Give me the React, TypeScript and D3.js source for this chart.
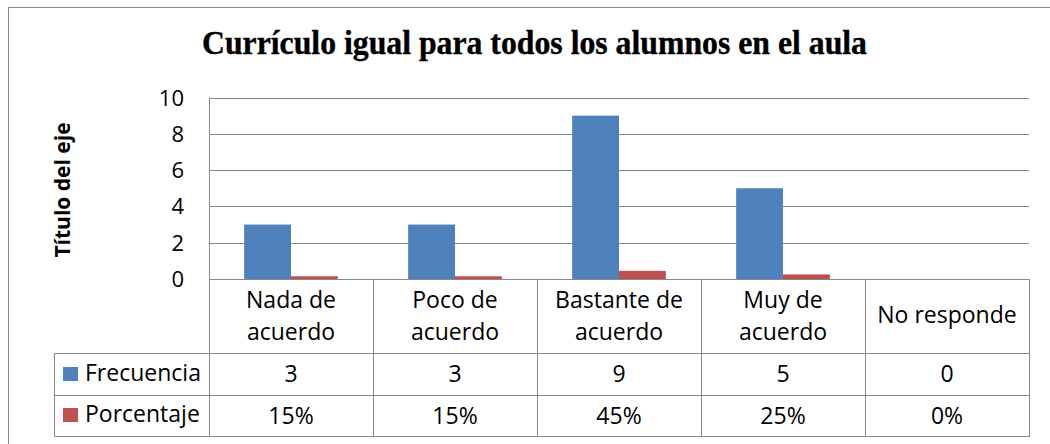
import React from "react";
import * as d3 from "d3";

const categories: string[][] = [
  ["Nada de", "acuerdo"],
  ["Poco de", "acuerdo"],
  ["Bastante de", "acuerdo"],
  ["Muy de", "acuerdo"],
  ["No responde"],
];
const frecuencia = [3, 3, 9, 5, 0];
const porcentaje = [0.15, 0.15, 0.45, 0.25, 0];
const porcentajeLabels = ["15%", "15%", "45%", "25%", "0%"];
const seriesNames = ["Frecuencia", "Porcentaje"];
const seriesColors = ["#4F81BD", "#C0504D"];
const yTicks = [0, 2, 4, 6, 8, 10];
const title = "Currículo igual para todos los alumnos en el aula";
const axisTitle = "Título del eje";

const W = 1050;
const H = 444;
const plotL = 209;
const plotR = 1029;
const plotT = 97.5;
const plotB = 279;
const catRowB = 353;
const row1B = 395;
const row2B = 436;
const legL = 54;
const grid = "#878787";
const font = "'Open Sans', sans-serif";

export default function App() {
  const keys = categories.map((c) => c.join(" "));
  const x = d3.scaleBand<string>().domain(keys).range([plotL, plotR]).padding(0);
  const xs = d3
    .scaleBand<string>()
    .domain(seriesNames)
    .range([0, x.bandwidth()])
    .paddingInner(0)
    .paddingOuter(0.75);
  const y = d3.scaleLinear().domain([0, 10]).range([plotB, plotT]);
  const series = [frecuencia, porcentaje];
  const rowTexts = [frecuencia.map(String), porcentajeLabels];

  return (
    <svg
      width={W}
      height={H}
      style={{ position: "absolute", left: 0, top: 0, background: "#fff" }}
    >
      <rect x={0} y={0} width={W} height={H} fill="#fff" />
      {/* outer frame */}
      <rect x={8.5} y={7.5} width={W + 20} height={H + 20} fill="none" stroke="#888" strokeWidth={1} />
      <text
        x={534.5}
        y={54}
        textAnchor="middle"
        fontFamily="'Liberation Serif', 'Times New Roman', serif"
        fontWeight="bold"
        fontSize={33}
        textLength={665}
        lengthAdjust="spacingAndGlyphs"
        fill="#000"
        stroke="#000"
        strokeWidth={0.4}
      >
        {title}
      </text>
      {/* gridlines */}
      {yTicks.map((t) => (
        <line
          key={t}
          x1={plotL}
          x2={plotR}
          y1={Math.round(y(t)) + 0.5}
          y2={Math.round(y(t)) + 0.5}
          stroke={grid}
          strokeWidth={1}
        />
      ))}
      {yTicks.map((t) => (
        <text
          key={"l" + t}
          x={184}
          y={y(t) + 8}
          textAnchor="end"
          fontFamily={font}
          fontSize={22}
          fill="#000"
        >
          {t}
        </text>
      ))}
      <text
        transform={`translate(70,190) rotate(-90)`}
        textAnchor="middle"
        fontFamily={font}
        fontWeight="bold"
        fontSize={21}
        fill="#000"
      >
        {axisTitle}
      </text>
      {/* bars */}
      {series.map((s, si) =>
        s.map((v, i) => (
          <rect
            key={si + "-" + i}
            x={(x(keys[i]) as number) + (xs(seriesNames[si]) as number)}
            y={y(v)}
            width={xs.bandwidth()}
            height={plotB - y(v)}
            fill={seriesColors[si]}
          />
        ))
      )}
      {/* data table */}
      <line x1={plotL + 0.5} x2={plotL + 0.5} y1={plotT} y2={row2B} stroke={grid} />
      {keys.map((k, i) => (
        <line
          key={"v" + i}
          x1={Math.round((x(k) as number) + x.bandwidth()) + 0.5}
          x2={Math.round((x(k) as number) + x.bandwidth()) + 0.5}
          y1={plotB}
          y2={row2B}
          stroke={grid}
        />
      ))}
      <line x1={legL + 0.5} x2={legL + 0.5} y1={catRowB} y2={row2B} stroke={grid} />
      {[catRowB, row1B, row2B].map((yy) => (
        <line key={"h" + yy} x1={legL} x2={plotR + 1} y1={yy + 0.5} y2={yy + 0.5} stroke={grid} />
      ))}
      {categories.map((c, i) => {
        const cx = (x(keys[i]) as number) + x.bandwidth() / 2;
        if (c.length === 1) {
          return (
            <text key={"c" + i} x={cx} y={323} textAnchor="middle" fontFamily={font} fontSize={23} fill="#000">
              {c[0]}
            </text>
          );
        }
        return (
          <g key={"c" + i}>
            <text x={cx} y={308} textAnchor="middle" fontFamily={font} fontSize={23} fill="#000">
              {c[0]}
            </text>
            <text x={cx} y={340} textAnchor="middle" fontFamily={font} fontSize={23} fill="#000">
              {c[1]}
            </text>
          </g>
        );
      })}
      {rowTexts.map((row, ri) =>
        row.map((t, i) => (
          <text
            key={"r" + ri + i}
            x={(x(keys[i]) as number) + x.bandwidth() / 2}
            y={ri === 0 ? 382 : 424}
            textAnchor="middle"
            fontFamily={font}
            fontSize={23}
            fill="#000"
          >
            {t}
          </text>
        ))
      )}
      {seriesNames.map((n, si) => (
        <g key={"leg" + si}>
          <rect x={63} y={si === 0 ? 367 : 408} width={15} height={14} fill={seriesColors[si]} />
          <text x={85} y={si === 0 ? 381 : 422} fontFamily={font} fontSize={23} fill="#000">
            {n}
          </text>
        </g>
      ))}
    </svg>
  );
}
